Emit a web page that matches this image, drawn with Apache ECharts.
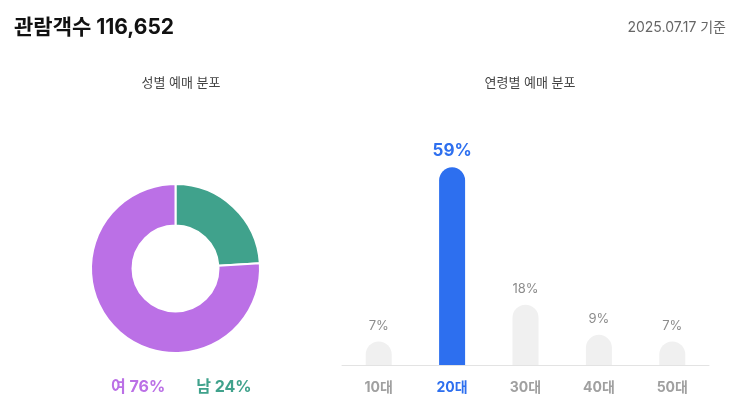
<!DOCTYPE html>
<html>
<head>
<meta charset="utf-8">
<script src="https://cdn.jsdelivr.net/npm/echarts@6/dist/echarts.min.js"></script>
<style>
  html, body { margin: 0; padding: 0; background: #fff; }
  #main { width: 734px; height: 408px; }
</style>
</head>
<body>
<div id="main"></div>
<script>
// 성별 예매 분포
var genderNames = ['남', '여'];
var genderValues = [24, 76];
var genderColors = ['#40A28C', '#BB70E6'];

// 연령별 예매 분포
var ageCategories = ['10대', '20대', '30대', '40대', '50대'];
var ageValues = [7, 59, 18, 9, 7];

var totalVisitors = '116,652';
var baseDate = '2025.07.17';

var FONT = "Inter, 'Noto Sans CJK KR', sans-serif";
var BLUE = '#2D6FEF';
var maxIdx = ageValues.indexOf(Math.max.apply(null, ageValues));

var myChart = echarts.init(document.getElementById('main'));

var option = {
  textStyle: { fontFamily: FONT },
  title: [
    {
      text: '관람객수 ' + totalVisitors,
      left: 9, top: 12,
      textStyle: { fontSize: 21, fontWeight: 'bold', color: '#111', fontFamily: FONT }
    },
    {
      text: baseDate + ' 기준',
      right: 3, top: 16,
      textStyle: { fontSize: 14, fontWeight: 'normal', color: '#666', fontFamily: FONT }
    },
    {
      text: '성별 예매 분포',
      left: 176, top: 72, textAlign: 'center',
      textStyle: { fontSize: 13, fontWeight: 'normal', color: '#444', fontFamily: FONT }
    },
    {
      text: '연령별 예매 분포',
      left: 525, top: 72, textAlign: 'center',
      textStyle: { fontSize: 13, fontWeight: 'normal', color: '#444', fontFamily: FONT }
    }
  ],
  legend: {
    data: [
      { name: genderNames[1], textStyle: { color: genderColors[1] } },
      { name: genderNames[0], textStyle: { color: genderColors[0] } }
    ],
    icon: 'none',
    itemWidth: 0,
    itemGap: 26,
    left: 101, top: 374,
    selectedMode: false,
    formatter: function (name) {
      return name + ' ' + genderValues[genderNames.indexOf(name)] + '%';
    },
    textStyle: { fontSize: 16, fontWeight: 'bold', fontFamily: FONT }
  },
  grid: { left: 342, right: 25, top: 164, bottom: 43 },
  xAxis: {
    type: 'category',
    data: ageCategories,
    axisLine: { lineStyle: { color: '#E3E3E3' } },
    axisTick: { show: false },
    axisLabel: {
      margin: 16,
      fontSize: 14,
      fontWeight: 'bold',
      fontFamily: FONT,
      color: function (v, i) { return i === maxIdx ? BLUE : '#A0A0A0'; }
    }
  },
  yAxis: {
    type: 'value', min: 0, max: 60, show: false
  },
  series: [
    {
      type: 'pie',
      center: [175.5, 268.5],
      radius: [43, 84.5],
      startAngle: 90,
      silent: true,
      label: { show: false },
      itemStyle: { borderColor: '#fff', borderWidth: 2 },
      data: genderNames.map(function (n, i) {
        return { name: n, value: genderValues[i], itemStyle: { color: genderColors[i] } };
      })
    },
    {
      type: 'bar',
      barWidth: 26,
      silent: true,
      data: ageValues.map(function (v, i) {
        var hi = i === maxIdx;
        return {
          value: v,
          itemStyle: { color: hi ? BLUE : '#F0F0F0', borderRadius: [13, 13, 0, 0] },
          label: hi
            ? { color: BLUE, fontSize: 17, fontWeight: 'bold', distance: 8 }
            : { color: '#8C8C8C', fontSize: 13, distance: 9 }
        };
      }),
      label: {
        show: true,
        position: 'top',
        fontFamily: FONT,
        formatter: '{c}%'
      }
    }
  ]
};

myChart.setOption(option);
window.onresize = myChart.resize;
</script>
</body>
</html>
